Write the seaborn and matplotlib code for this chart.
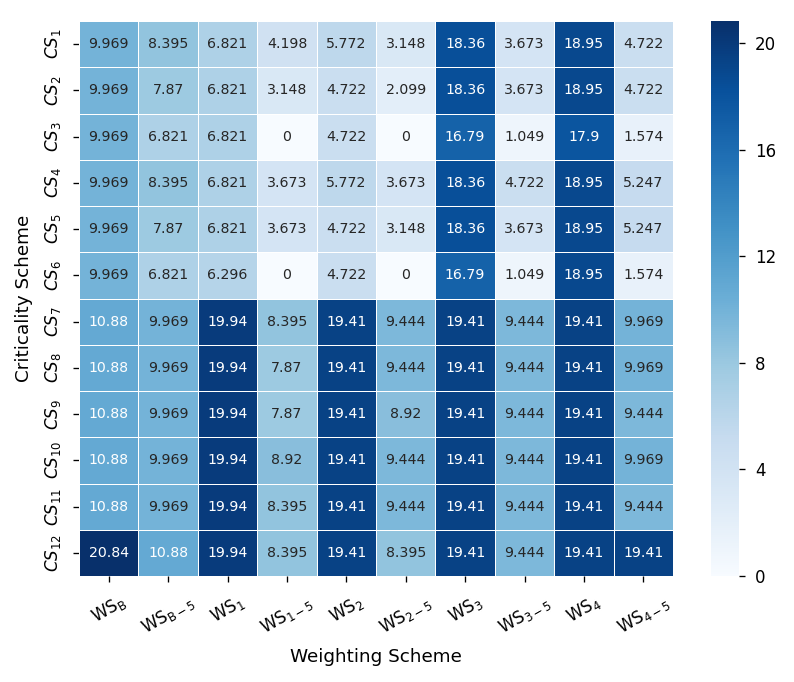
import numpy as np
import pandas as pd
import seaborn as sns
import matplotlib
matplotlib.use("Agg")
import matplotlib.pyplot as plt

weighting = [r"WS$_{\mathrm{B}}$", r"WS$_{\mathrm{B-5}}$", r"WS$_{\mathrm{1}}$", r"WS$_{\mathrm{1-5}}$",
             r"WS$_{\mathrm{2}}$", r"WS$_{\mathrm{2-5}}$", r"WS$_{\mathrm{3}}$", r"WS$_{\mathrm{3-5}}$",
             r"WS$_{\mathrm{4}}$", r"WS$_{\mathrm{4-5}}$"]
criticality = [rf"$CS_{{{i}}}$" for i in range(1, 13)]

cs1 = [9.969, 8.395, 6.821, 4.198, 5.772, 3.148, 18.36, 3.673, 18.95, 4.722]
cs2 = [9.969, 7.87, 6.821, 3.148, 4.722, 2.099, 18.36, 3.673, 18.95, 4.722]
cs3 = [9.969, 6.821, 6.821, 0, 4.722, 0, 16.79, 1.049, 17.9, 1.574]
cs4 = [9.969, 8.395, 6.821, 3.673, 5.772, 3.673, 18.36, 4.722, 18.95, 5.247]
cs5 = [9.969, 7.87, 6.821, 3.673, 4.722, 3.148, 18.36, 3.673, 18.95, 5.247]
cs6 = [9.969, 6.821, 6.296, 0, 4.722, 0, 16.79, 1.049, 18.95, 1.574]
cs7 = [10.88, 9.969, 19.94, 8.395, 19.41, 9.444, 19.41, 9.444, 19.41, 9.969]
cs8 = [10.88, 9.969, 19.94, 7.87, 19.41, 9.444, 19.41, 9.444, 19.41, 9.969]
cs9 = [10.88, 9.969, 19.94, 7.87, 19.41, 8.92, 19.41, 9.444, 19.41, 9.444]
cs10 = [10.88, 9.969, 19.94, 8.92, 19.41, 9.444, 19.41, 9.444, 19.41, 9.969]
cs11 = [10.88, 9.969, 19.94, 8.395, 19.41, 9.444, 19.41, 9.444, 19.41, 9.444]
cs12 = [20.84, 10.88, 19.94, 8.395, 19.41, 8.395, 19.41, 9.444, 19.41, 19.41]

cbar_ticks = [0, 4, 8, 12, 16, 20]

df = pd.DataFrame([cs1, cs2, cs3, cs4, cs5, cs6, cs7, cs8, cs9, cs10, cs11, cs12],
                  index=criticality, columns=weighting)

sns.set_style("ticks")
plt.rcParams.update({"text.color": "black", "axes.labelcolor": "black",
                     "xtick.color": "black", "ytick.color": "black",
                     "xtick.major.pad": 6, "ytick.major.pad": 6})

fig = plt.figure(figsize=(794 / 120, 682 / 120), dpi=120)
ax = fig.add_axes([79 / 794, 106 / 682, 594 / 794, 555 / 682])
cax = fig.add_axes([711 / 794, 106 / 682, 28 / 794, 555 / 682])

sns.heatmap(df, ax=ax, cbar_ax=cax, cmap="Blues", annot=True, fmt=".4g",
            linewidths=0.5, linecolor="white", vmin=0,
            annot_kws={"fontsize": 8.5},
            cbar_kws={"ticks": cbar_ticks})

ax.set_xlabel("Weighting Scheme", fontsize=11, labelpad=6)
ax.set_ylabel("Criticality Scheme", fontsize=11, labelpad=6)
ax.set_xticklabels(weighting, rotation=30, fontsize=10)
ax.set_yticklabels(criticality, rotation=90, va="center", fontsize=10)
cax.tick_params(labelsize=10)
cax.set_frame_on(False)

fig.savefig("out.png", dpi=120)
